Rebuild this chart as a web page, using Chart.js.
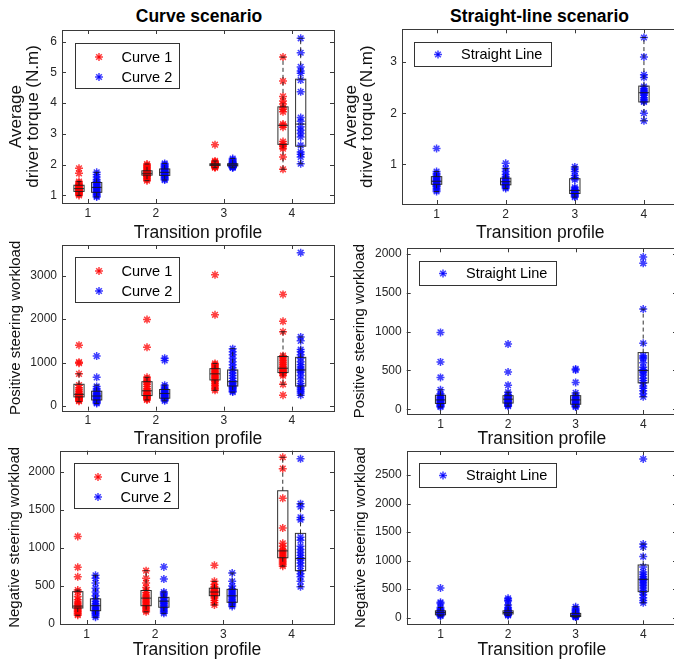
<!DOCTYPE html>
<html lang="en">
<head>
<meta charset="UTF-8">
<title>Driver torque and steering workload</title>
<script src="https://cdn.jsdelivr.net/npm/chart.js"></script>
<style>
  html, body { margin: 0; padding: 0; background: #fff; overflow: hidden; }
  body { width: 674px; height: 662px; position: relative; }
  canvas { position: absolute; }
  .col-title { position: absolute; top: 6px; font: bold 17.5px 'Liberation Sans', Arial, sans-serif; line-height: 20px; text-align: center; color: #000; }
</style>
</head>
<body>
<div class="col-title" style="left:0;width:398px">Curve scenario</div>
<div class="col-title" style="left:400px;width:279px">Straight-line scenario</div>
<canvas id="c1"></canvas>
<canvas id="c2"></canvas>
<canvas id="c3"></canvas>
<canvas id="c4"></canvas>
<canvas id="c5"></canvas>
<canvas id="c6"></canvas>

<script>
// transition profiles on the x axis
const profiles = [1, 2, 3, 4];

// ---- average driver torque (N.m) ----
const torqueCurve1 = [
  [1.88, 1.72, 1.45, 1.40, 1.36, 1.33, 1.30, 1.28, 1.25, 1.23, 1.22, 1.20, 1.18, 1.16, 1.14, 1.12, 1.10, 1.07, 1.04, 1.00],
  [2.02, 1.98, 1.94, 1.90, 1.86, 1.82, 1.80, 1.78, 1.76, 1.74, 1.72, 1.70, 1.68, 1.66, 1.64, 1.62, 1.60, 1.56, 1.52, 1.48],
  [2.65, 2.12, 2.09, 2.07, 2.05, 2.04, 2.03, 2.02, 2.01, 2.00, 2.00, 1.99, 1.98, 1.97, 1.96, 1.95, 1.94, 1.93, 1.92, 1.90],
  [5.50, 4.72, 4.22, 4.07, 3.97, 3.85, 3.80, 3.72, 3.32, 3.28, 3.22, 2.75, 2.68, 2.62, 2.58, 2.52, 2.25, 1.85]
];
const torqueCurve2 = [
  [1.75, 1.68, 1.60, 1.52, 1.46, 1.42, 1.38, 1.35, 1.31, 1.28, 1.25, 1.22, 1.19, 1.16, 1.13, 1.10, 1.06, 1.02, 0.98, 0.95],
  [2.04, 2.00, 1.96, 1.92, 1.88, 1.85, 1.83, 1.80, 1.78, 1.76, 1.74, 1.72, 1.70, 1.68, 1.66, 1.64, 1.60, 1.57, 1.53, 1.50],
  [2.20, 2.16, 2.12, 2.09, 2.06, 2.04, 2.03, 2.02, 2.01, 2.00, 1.99, 1.98, 1.97, 1.96, 1.95, 1.94, 1.93, 1.92, 1.91, 1.90],
  [6.11, 5.64, 5.18, 5.05, 4.97, 4.75, 4.37, 3.53, 3.41, 3.23, 3.12, 3.01, 2.90, 2.63, 2.41, 2.34, 2.25, 2.03]
];
const torqueStraight = [
  [1.31, 0.86, 0.82, 0.79, 0.76, 0.74, 0.72, 0.70, 0.68, 0.67, 0.66, 0.64, 0.62, 0.60, 0.58, 0.56, 0.53, 0.50, 0.47],
  [1.02, 0.92, 0.86, 0.80, 0.76, 0.73, 0.71, 0.69, 0.67, 0.66, 0.65, 0.63, 0.62, 0.60, 0.59, 0.57, 0.55, 0.53],
  [0.95, 0.91, 0.86, 0.78, 0.74, 0.70, 0.55, 0.52, 0.50, 0.49, 0.48, 0.46, 0.45, 0.44, 0.42, 0.40, 0.38, 0.36],
  [3.48, 3.10, 2.75, 2.70, 2.52, 2.48, 2.45, 2.42, 2.40, 2.38, 2.35, 2.30, 2.27, 2.24, 2.22, 2.00, 1.85]
];
// box stats: [lower whisker, q1, median, q3, upper whisker]
const torqueCurve1Box = [[1.00, 1.13, 1.22, 1.33, 1.45], [1.48, 1.66, 1.72, 1.80, 2.02], [1.90, 1.97, 2.00, 2.03, 2.12], [1.85, 2.66, 3.28, 3.88, 5.50]];
const torqueCurve2Box = [[0.95, 1.10, 1.26, 1.42, 1.75], [1.50, 1.65, 1.75, 1.86, 2.04], [1.90, 1.96, 1.99, 2.03, 2.20], [2.03, 2.60, 3.32, 4.78, 6.11]];
const torqueStraightBox = [[0.47, 0.61, 0.67, 0.76, 0.86], [0.53, 0.60, 0.66, 0.73, 0.92], [0.36, 0.43, 0.49, 0.72, 0.95], [1.85, 2.22, 2.40, 2.53, 3.48]];

// ---- positive steering workload ----
const posCurve1 = [
  [1400, 1010, 985, 740, 480, 420, 380, 340, 300, 280, 260, 240, 225, 210, 195, 180, 165, 150, 130, 110],
  [1990, 1350, 660, 620, 580, 540, 500, 450, 400, 360, 330, 300, 280, 260, 240, 220, 200, 180, 160, 140],
  [3020, 2100, 980, 950, 920, 890, 860, 830, 800, 770, 740, 710, 680, 650, 620, 590, 560, 520, 480, 440, 400, 360],
  [2570, 1950, 1710, 1160, 1120, 1080, 1040, 1000, 960, 920, 890, 860, 840, 820, 800, 780, 760, 740, 700, 500, 250]
];
const posCurve2 = [
  [1150, 660, 450, 400, 360, 330, 300, 280, 260, 240, 225, 210, 195, 180, 160, 140, 120, 100, 80, 60],
  [1100, 1050, 480, 440, 400, 370, 350, 330, 310, 290, 275, 260, 245, 230, 215, 200, 185, 170, 150, 120],
  [1320, 1250, 1180, 1100, 1020, 950, 880, 820, 760, 700, 640, 580, 540, 510, 480, 460, 440, 420, 400, 370, 340, 320],
  [3530, 1590, 1500, 1300, 1250, 1180, 1100, 1020, 950, 900, 850, 820, 780, 700, 620, 520, 460, 420, 380, 340, 300, 250]
];
const posStraight = [
  [990, 610, 410, 250, 200, 180, 160, 150, 140, 130, 120, 110, 100, 90, 80, 70, 60, 50, 40, 30],
  [840, 480, 310, 220, 190, 170, 160, 150, 140, 130, 120, 110, 100, 90, 80, 70, 60, 50, 40],
  [520, 505, 345, 210, 180, 160, 150, 140, 130, 120, 110, 100, 90, 80, 70, 60, 50, 40, 30],
  [1960, 1880, 1290, 850, 690, 670, 650, 600, 540, 510, 490, 470, 440, 400, 370, 340, 300, 270, 240, 200, 160]
];
const posCurve1Box = [[100, 210, 270, 500, 740], [140, 240, 350, 560, 660], [360, 600, 740, 860, 980], [500, 770, 870, 1140, 1710]];
const posCurve2Box = [[60, 140, 230, 340, 480], [120, 180, 290, 380, 480], [320, 460, 560, 830, 1320], [250, 460, 830, 1120, 1590]];
const posStraightBox = [[30, 75, 120, 180, 250], [40, 80, 130, 175, 220], [30, 65, 120, 175, 210], [160, 340, 500, 730, 1290]];

// ---- negative steering workload ----
const negCurve1 = [
  [1150, 745, 620, 445, 420, 360, 320, 290, 270, 250, 235, 220, 205, 190, 175, 160, 145, 130, 115],
  [700, 600, 540, 480, 440, 410, 380, 360, 340, 320, 300, 280, 260, 240, 220, 200, 180, 160],
  [770, 560, 520, 490, 470, 450, 440, 430, 420, 410, 400, 390, 380, 360, 340, 310, 280, 250],
  [2190, 2040, 1650, 1260, 1060, 1020, 980, 960, 940, 920, 900, 880, 860, 840, 820, 800, 780, 760]
];
const negCurve2 = [
  [640, 600, 540, 470, 420, 370, 330, 300, 270, 250, 235, 220, 205, 190, 175, 160, 145, 130, 110, 90],
  [750, 590, 420, 400, 380, 350, 330, 310, 295, 280, 265, 250, 235, 220, 200, 180, 160, 140],
  [670, 560, 500, 460, 440, 420, 400, 380, 360, 340, 320, 300, 285, 270, 250, 230],
  [2170, 1580, 1540, 1400, 1370, 1140, 1100, 1020, 980, 940, 900, 870, 840, 800, 760, 700, 660, 620, 560, 490]
];
const negStraight = [
  [520, 270, 250, 180, 150, 130, 115, 105, 95, 90, 85, 80, 75, 70, 60, 50, 40, 30],
  [340, 310, 290, 220, 180, 150, 130, 115, 105, 95, 90, 85, 80, 70, 60, 50, 40],
  [190, 160, 140, 120, 100, 85, 75, 65, 55, 50, 45, 40, 35, 30, 25, 20, 15, 10],
  [2780, 1290, 1240, 1070, 890, 800, 760, 720, 690, 670, 650, 620, 590, 560, 520, 480, 440, 400, 350, 300, 260]
];
const negCurve1Box = [[115, 210, 235, 425, 445], [160, 240, 340, 440, 700], [250, 372, 420, 470, 560], [760, 870, 960, 1750, 2190]];
const negCurve2Box = [[90, 175, 240, 330, 640], [140, 220, 300, 350, 420], [230, 285, 370, 455, 670], [490, 700, 860, 1190, 1580]];
const negStraightBox = [[30, 50, 88, 120, 180], [40, 65, 90, 120, 220], [10, 20, 40, 75, 190], [260, 456, 672, 923, 1290]];

// tick values
const xTicks = [1, 2, 3, 4];
const torqueCurveTicks = [1, 2, 3, 4, 5, 6];
const torqueStraightTicks = [1, 2, 3];
const posCurveTicks = [0, 1000, 2000, 3000];
const posStraightTicks = [0, 500, 1000, 1500, 2000];
const negCurveTicks = [0, 500, 1000, 1500, 2000];
const negStraightTicks = [0, 500, 1000, 1500, 2000, 2500];

const FONT = "'Liberation Sans', Arial, Helvetica, sans-serif";
const RED = 'rgba(255,0,0,0.75)';
const BLUE = 'rgba(0,0,255,0.75)';
const AXIS = '#3a3a3a';
const OFFSET = 0.13;
const BOX_W = 0.15;

Chart.defaults.font.family = FONT;

function line(ctx, x1, y1, x2, y2) {
  ctx.beginPath(); ctx.moveTo(x1, y1); ctx.lineTo(x2, y2); ctx.stroke();
}

function star(ctx, x, y, r, color) {
  ctx.save();
  ctx.strokeStyle = color; ctx.lineWidth = 1.5;
  const d = r * Math.SQRT1_2;
  line(ctx, x - r, y, x + r, y);
  line(ctx, x, y - r, x, y + r);
  line(ctx, x - d, y - d, x + d, y + d);
  line(ctx, x - d, y + d, x + d, y - d);
  ctx.restore();
}

function toPoints(groups, offset) {
  const pts = [];
  groups.forEach((vals, i) => vals.forEach(v => pts.push({x: profiles[i] + offset, y: v})));
  return pts;
}

// box plots drawn through the chart scales
function boxPlugin(sets) {
  return {
    id: 'boxes',
    afterDatasetsDraw(chart) {
      const {ctx, scales: {x, y}} = chart;
      ctx.save();
      ctx.strokeStyle = 'rgba(25,25,25,0.9)';
      ctx.lineWidth = 1;
      sets.forEach(set => {
        set.stats.forEach((s, i) => {
          const pos = profiles[i] + set.offset;
          const xc = x.getPixelForValue(pos);
          const xl = x.getPixelForValue(pos - BOX_W / 2);
          const xr = x.getPixelForValue(pos + BOX_W / 2);
          const [lo, q1, med, q3, hi] = s.map(v => y.getPixelForValue(v));
          ctx.setLineDash([4, 3]);
          line(ctx, xc, q3, xc, hi);
          line(ctx, xc, q1, xc, lo);
          ctx.setLineDash([]);
          const cw = (xr - xl) / 4;
          line(ctx, xc - cw, hi, xc + cw, hi);
          line(ctx, xc - cw, lo, xc + cw, lo);
          ctx.strokeRect(xl, q3, xr - xl, q1 - q3);
          line(ctx, xl, med, xr, med);
        });
      });
      ctx.restore();
    }
  };
}

// axes box with inward ticks, MATLAB style
const framePlugin = {
  id: 'frame',
  afterDatasetsDraw(chart) {
    const {ctx, chartArea: a, scales: {x, y}} = chart;
    ctx.save();
    ctx.strokeStyle = AXIS; ctx.lineWidth = 1;
    ctx.strokeRect(Math.round(a.left) + 0.5, Math.round(a.top) + 0.5, Math.round(a.right - a.left), Math.round(a.bottom - a.top));
    x.ticks.forEach(t => {
      const px = Math.round(x.getPixelForValue(t.value)) + 0.5;
      line(ctx, px, a.bottom, px, a.bottom - 4);
      line(ctx, px, a.top, px, a.top + 4);
    });
    y.ticks.forEach(t => {
      const py = Math.round(y.getPixelForValue(t.value)) + 0.5;
      line(ctx, a.left, py, a.left + 4, py);
      line(ctx, a.right, py, a.right - 4, py);
    });
    ctx.restore();
  }
};

function legendPlugin(items, g) {
  return {
    id: 'boxLegend',
    afterDraw(chart) {
      const {ctx, chartArea: a} = chart;
      const bx = Math.round(a.left + g.dx) + 0.5, by = Math.round(a.top + g.dy) + 0.5;
      ctx.save();
      ctx.fillStyle = '#fff';
      ctx.fillRect(bx, by, g.w, g.h);
      ctx.strokeStyle = '#333'; ctx.lineWidth = 1;
      ctx.strokeRect(bx, by, g.w, g.h);
      ctx.font = '14.5px ' + FONT;
      ctx.textBaseline = 'middle';
      ctx.fillStyle = '#000';
      items.forEach((it, k) => {
        const cy = by + g.rows[k];
        star(ctx, bx + g.markX, cy, 4, it.color);
        ctx.fillText(it.label, bx + g.textX, cy + 0.5);
      });
      ctx.restore();
    }
  };
}

const curveLegend = {w: 104, h: 45, rows: [13.5, 33.5], markX: 23.5, textX: 46};
const straightLegend = {w: 137, h: 24, rows: [12], markX: 23.5, textX: 46.5};

function makePanel(p) {
  const cv = document.getElementById(p.id);
  const width = Math.round(p.R - p.left + 6);
  const height = Math.round(p.titleY + 10.5 - p.top);
  cv.width = width; cv.height = height;
  cv.style.left = p.left + 'px'; cv.style.top = p.top + 'px';
  const yW = p.L - p.left;
  const xH = height - (p.B - p.top);

  const datasets = p.series.map(s => ({
    data: toPoints(s.values, s.offset),
    pointStyle: 'star',
    pointRadius: 4,
    borderWidth: 1.5,
    borderColor: s.color,
    backgroundColor: s.color,
    showLine: false
  }));

  new Chart(cv, {
    type: 'scatter',
    data: {datasets},
    options: {
      responsive: false,
      animation: false,
      events: [],
      devicePixelRatio: 1,
      layout: {padding: {left: 0, top: p.T - p.top, right: width - (p.R - p.left), bottom: 0}},
      plugins: {legend: {display: false}, tooltip: {enabled: false}},
      scales: {
        x: {
          type: 'linear', min: p.xMin, max: p.xMax,
          afterBuildTicks: s => { s.ticks = xTicks.map(v => ({value: v})); },
          afterFit: s => { s.height = xH; },
          ticks: {font: {size: 12}, color: '#262626', padding: 3, callback: v => String(v)},
          grid: {display: false, drawTicks: false},
          border: {display: false},
          title: {display: true, text: 'Transition profile', color: '#111', font: {size: 17.5, lineHeight: 1.2}, padding: 0}
        },
        y: {
          type: 'linear', min: p.yMin, max: p.yMax,
          afterBuildTicks: s => { s.ticks = p.yTicks.map(v => ({value: v})); },
          afterFit: s => { s.width = yW; },
          ticks: {font: {size: 12}, color: '#262626', padding: 5, callback: v => String(v)},
          grid: {display: false, drawTicks: false},
          border: {display: false},
          title: {display: true, text: p.yTitle, color: '#111', font: p.yFont, padding: {top: p.yPad, bottom: 0}}
        }
      }
    },
    plugins: [boxPlugin(p.boxes), framePlugin, legendPlugin(p.legend, p.legendGeo)]
  });
}

const torqueFont = {size: 17, lineHeight: '16.3px'};
const workFont = {size: 15, lineHeight: 1.2};

makePanel({
  id: 'c1', left: 0, top: 0, L: 62, T: 30, R: 334, B: 203, titleY: 233,
  xMin: 0.62, xMax: 4.62, yMin: 0.753, yMax: 6.38, yTicks: torqueCurveTicks,
  yTitle: ['Average', 'driver torque (N.m)'], yFont: torqueFont, yPad: 8.5,
  series: [{values: torqueCurve1, offset: -OFFSET, color: RED}, {values: torqueCurve2, offset: OFFSET, color: BLUE}],
  boxes: [{stats: torqueCurve1Box, offset: -OFFSET}, {stats: torqueCurve2Box, offset: OFFSET}],
  legend: [{label: 'Curve 1', color: RED}, {label: 'Curve 2', color: BLUE}],
  legendGeo: Object.assign({dx: 13, dy: 13}, curveLegend)
});
makePanel({
  id: 'c2', left: 330, top: 0, L: 402, T: 29.3, R: 678.5, B: 204, titleY: 233,
  xMin: 0.5, xMax: 4.5, yMin: 0.225, yMax: 3.64, yTicks: torqueStraightTicks,
  yTitle: ['Average', 'driver torque (N.m)'], yFont: torqueFont, yPad: 13,
  series: [{values: torqueStraight, offset: 0, color: BLUE}],
  boxes: [{stats: torqueStraightBox, offset: 0}],
  legend: [{label: 'Straight Line', color: BLUE}],
  legendGeo: Object.assign({dx: 12, dy: 12.7}, straightLegend)
});
makePanel({
  id: 'c3', left: 0, top: 215, L: 62, T: 245, R: 334, B: 410.7, titleY: 439.5,
  xMin: 0.62, xMax: 4.62, yMin: -108, yMax: 3707, yTicks: posCurveTicks,
  yTitle: 'Positive steering workload', yFont: workFont, yPad: 7,
  series: [{values: posCurve1, offset: -OFFSET, color: RED}, {values: posCurve2, offset: OFFSET, color: BLUE}],
  boxes: [{stats: posCurve1Box, offset: -OFFSET}, {stats: posCurve2Box, offset: OFFSET}],
  legend: [{label: 'Curve 1', color: RED}, {label: 'Curve 2', color: BLUE}],
  legendGeo: Object.assign({dx: 13, dy: 12}, curveLegend)
});
makePanel({
  id: 'c4', left: 330, top: 215, L: 406.7, T: 248.3, R: 677, B: 414, titleY: 439.5,
  xMin: 0.5, xMax: 4.5, yMin: -61, yMax: 2073, yTicks: posStraightTicks,
  yTitle: 'Positive steering workload', yFont: workFont, yPad: 21,
  series: [{values: posStraight, offset: 0, color: BLUE}],
  boxes: [{stats: posStraightBox, offset: 0}],
  legend: [{label: 'Straight Line', color: BLUE}],
  legendGeo: Object.assign({dx: 12.3, dy: 12.7}, straightLegend)
});
makePanel({
  id: 'c5', left: 0, top: 430, L: 60, T: 450.7, R: 334, B: 624, titleY: 650,
  xMin: 0.61, xMax: 4.62, yMin: 0, yMax: 2276, yTicks: negCurveTicks,
  yTitle: 'Negative steering workload', yFont: workFont, yPad: 6,
  series: [{values: negCurve1, offset: -OFFSET, color: RED}, {values: negCurve2, offset: OFFSET, color: BLUE}],
  boxes: [{stats: negCurve1Box, offset: -OFFSET}, {stats: negCurve2Box, offset: OFFSET}],
  legend: [{label: 'Curve 1', color: RED}, {label: 'Curve 2', color: BLUE}],
  legendGeo: Object.assign({dx: 14, dy: 12.3}, curveLegend)
});
makePanel({
  id: 'c6', left: 330, top: 430, L: 406.7, T: 451, R: 677, B: 624.3, titleY: 650,
  xMin: 0.5, xMax: 4.5, yMin: -116, yMax: 2920, yTicks: negStraightTicks,
  yTitle: 'Negative steering workload', yFont: workFont, yPad: 22,
  series: [{values: negStraight, offset: 0, color: BLUE}],
  boxes: [{stats: negStraightBox, offset: 0}],
  legend: [{label: 'Straight Line', color: BLUE}],
  legendGeo: Object.assign({dx: 12.3, dy: 12}, straightLegend)
});
</script>
</body>
</html>
